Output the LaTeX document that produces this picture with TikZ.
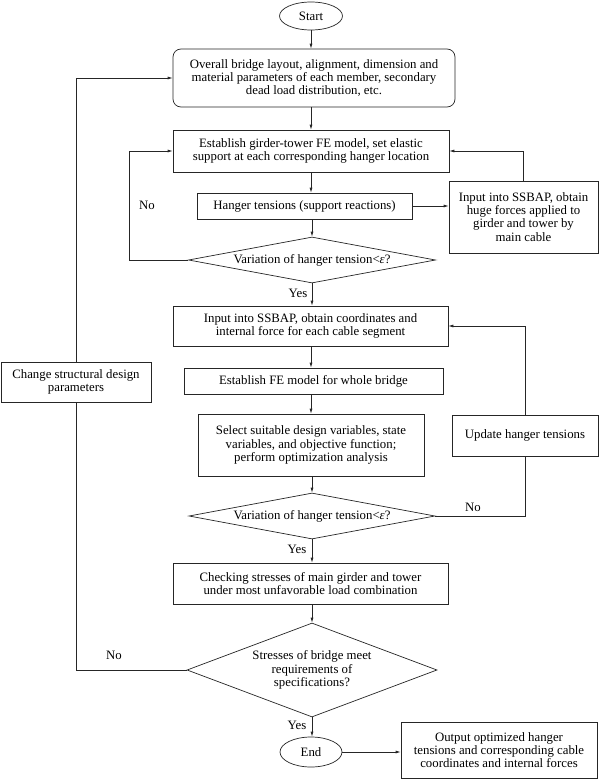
\documentclass[tikz,border=0pt]{standalone}
\usepackage{fontspec}
\setmainfont{Liberation Serif}
\usetikzlibrary{shapes.geometric,arrows.meta}
\begin{document}
\begin{tikzpicture}[x=1pt,y=-1pt,
  every node/.style={font=\fontsize{12.8}{13.2}\selectfont, text=black},
  ln/.style={draw=black!85, line width=0.7pt},
  arr/.style={ln, -{Latex[length=5pt,width=3pt]}},
  box/.style={ln, rectangle, align=center, inner sep=0pt},
  term/.style={ln, ellipse, inner sep=0pt},
  dia/.style={ln, diamond, inner sep=0pt},
  lbl/.style={inner sep=0pt}]
\useasboundingbox (0,0) rectangle (600,779);
\fill[white] (0,0) rectangle (600,779);

\node[term, minimum width=63pt, minimum height=28pt] (start) at (311,16) {Start};
\node[box, rounded corners=8pt, minimum width=282pt, minimum height=58pt] (b1) at (314,78)
  {Overall bridge layout, alignment, dimension and\\material parameters of each member, secondary\\dead load distribution, etc.};
\node[box, minimum width=276pt, minimum height=42pt] (b2) at (311,151)
  {Establish girder-tower FE model, set elastic\\support at each corresponding hanger location};
\node[box, minimum width=215pt, minimum height=26pt] (b3) at (304.5,206)
  {Hanger tensions (support reactions)};
\node[box, minimum width=149pt, minimum height=72pt] (rb) at (523.5,217)
  {Input into SSBAP, obtain\\huge forces applied to\\girder and tower by\\main cable};
\node[dia, minimum width=247pt, minimum height=46pt,
  label={[align=center]center:Variation of hanger tension<\textit{ε}?}] (d1) at (312,260) {};
\node[box, minimum width=275pt, minimum height=40pt] (b4) at (310.5,326)
  {Input into SSBAP, obtain coordinates and\\internal force for each cable segment};
\node[box, minimum width=259pt, minimum height=26pt] (b5) at (313.5,381)
  {Establish FE model for whole bridge};
\node[box, minimum width=226pt, minimum height=62pt] (b6) at (311,445)
  {Select suitable design variables, state\\variables, and objective function;\\perform optimization analysis};
\node[box, minimum width=146pt, minimum height=41pt] (upd) at (525,435.5)
  {Update hanger tensions};
\node[dia, minimum width=246pt, minimum height=46pt,
  label={[align=center]center:Variation of hanger tension<\textit{ε}?}] (d2) at (312,516) {};
\node[box, minimum width=275pt, minimum height=41pt] (b7) at (310.5,583.5)
  {Checking stresses of main girder and tower\\under most unfavorable load combination};
\node[dia, minimum width=250pt, minimum height=94pt,
  label={[align=center]center:Stresses of bridge meet\\requirements of\\specifications?}] (d3) at (312,670) {};
\node[term, minimum width=62pt, minimum height=30pt] (end) at (311,752) {End};
\node[box, minimum width=196pt, minimum height=56pt] (out) at (499,750)
  {Output optimized hanger\\tensions and corresponding cable\\coordinates and internal forces};
\node[box, minimum width=150pt, minimum height=40pt] (chg) at (76,382)
  {Change structural design\\parameters};

\draw[arr] (start) -- (start |- b1.north);
\draw[arr] (b1.south -| start) -- (b2.north -| start);
\draw[arr] (b2.south -| start) -- (b3.north -| start);
\draw[arr] (b3.east) -- (b3.east -| rb.west);
\draw[arr] (rb.north) |- (b2.east);
\draw[arr] (b3.south -| d1.north) -- (d1.north);
\draw[arr] (d1.west) -- ++(-59,0) |- (b2.west);
\node[lbl] (no1) at (147,205) {No};
\draw[arr] (d1.south) -- (d1.south |- b4.north);
\node[lbl] (yes1) at (298,293) {Yes};
\draw[arr] (b4.south -| start) -- (b5.north -| start);
\draw[arr] (b5.south -| start) -- (b6.north -| start);
\draw[arr] (b6.south -| d2.north) -- (d2.north);
\draw[arr] (d2.south) -- (d2.south |- b7.north);
\node[lbl] (yes2) at (297,549) {Yes};
\draw[ln] (d2.east) -| (upd.south);
\node[lbl] (no2) at (473,507) {No};
\draw[arr] (upd.north) |- (b4.east);
\draw[arr] (b7.south -| d3.north) -- (d3.north);
\draw[arr] (d3.south) -- (d3.south |- end.north);
\node[lbl] (yes3) at (297,725) {Yes};
\draw[arr] (end.east) -- (end.east -| out.west);
\draw[ln] (d3.west) -| (chg.south);
\node[lbl] (no3) at (114,655) {No};
\draw[arr] (chg.north) |- (b1.west);
\end{tikzpicture}
\end{document}
